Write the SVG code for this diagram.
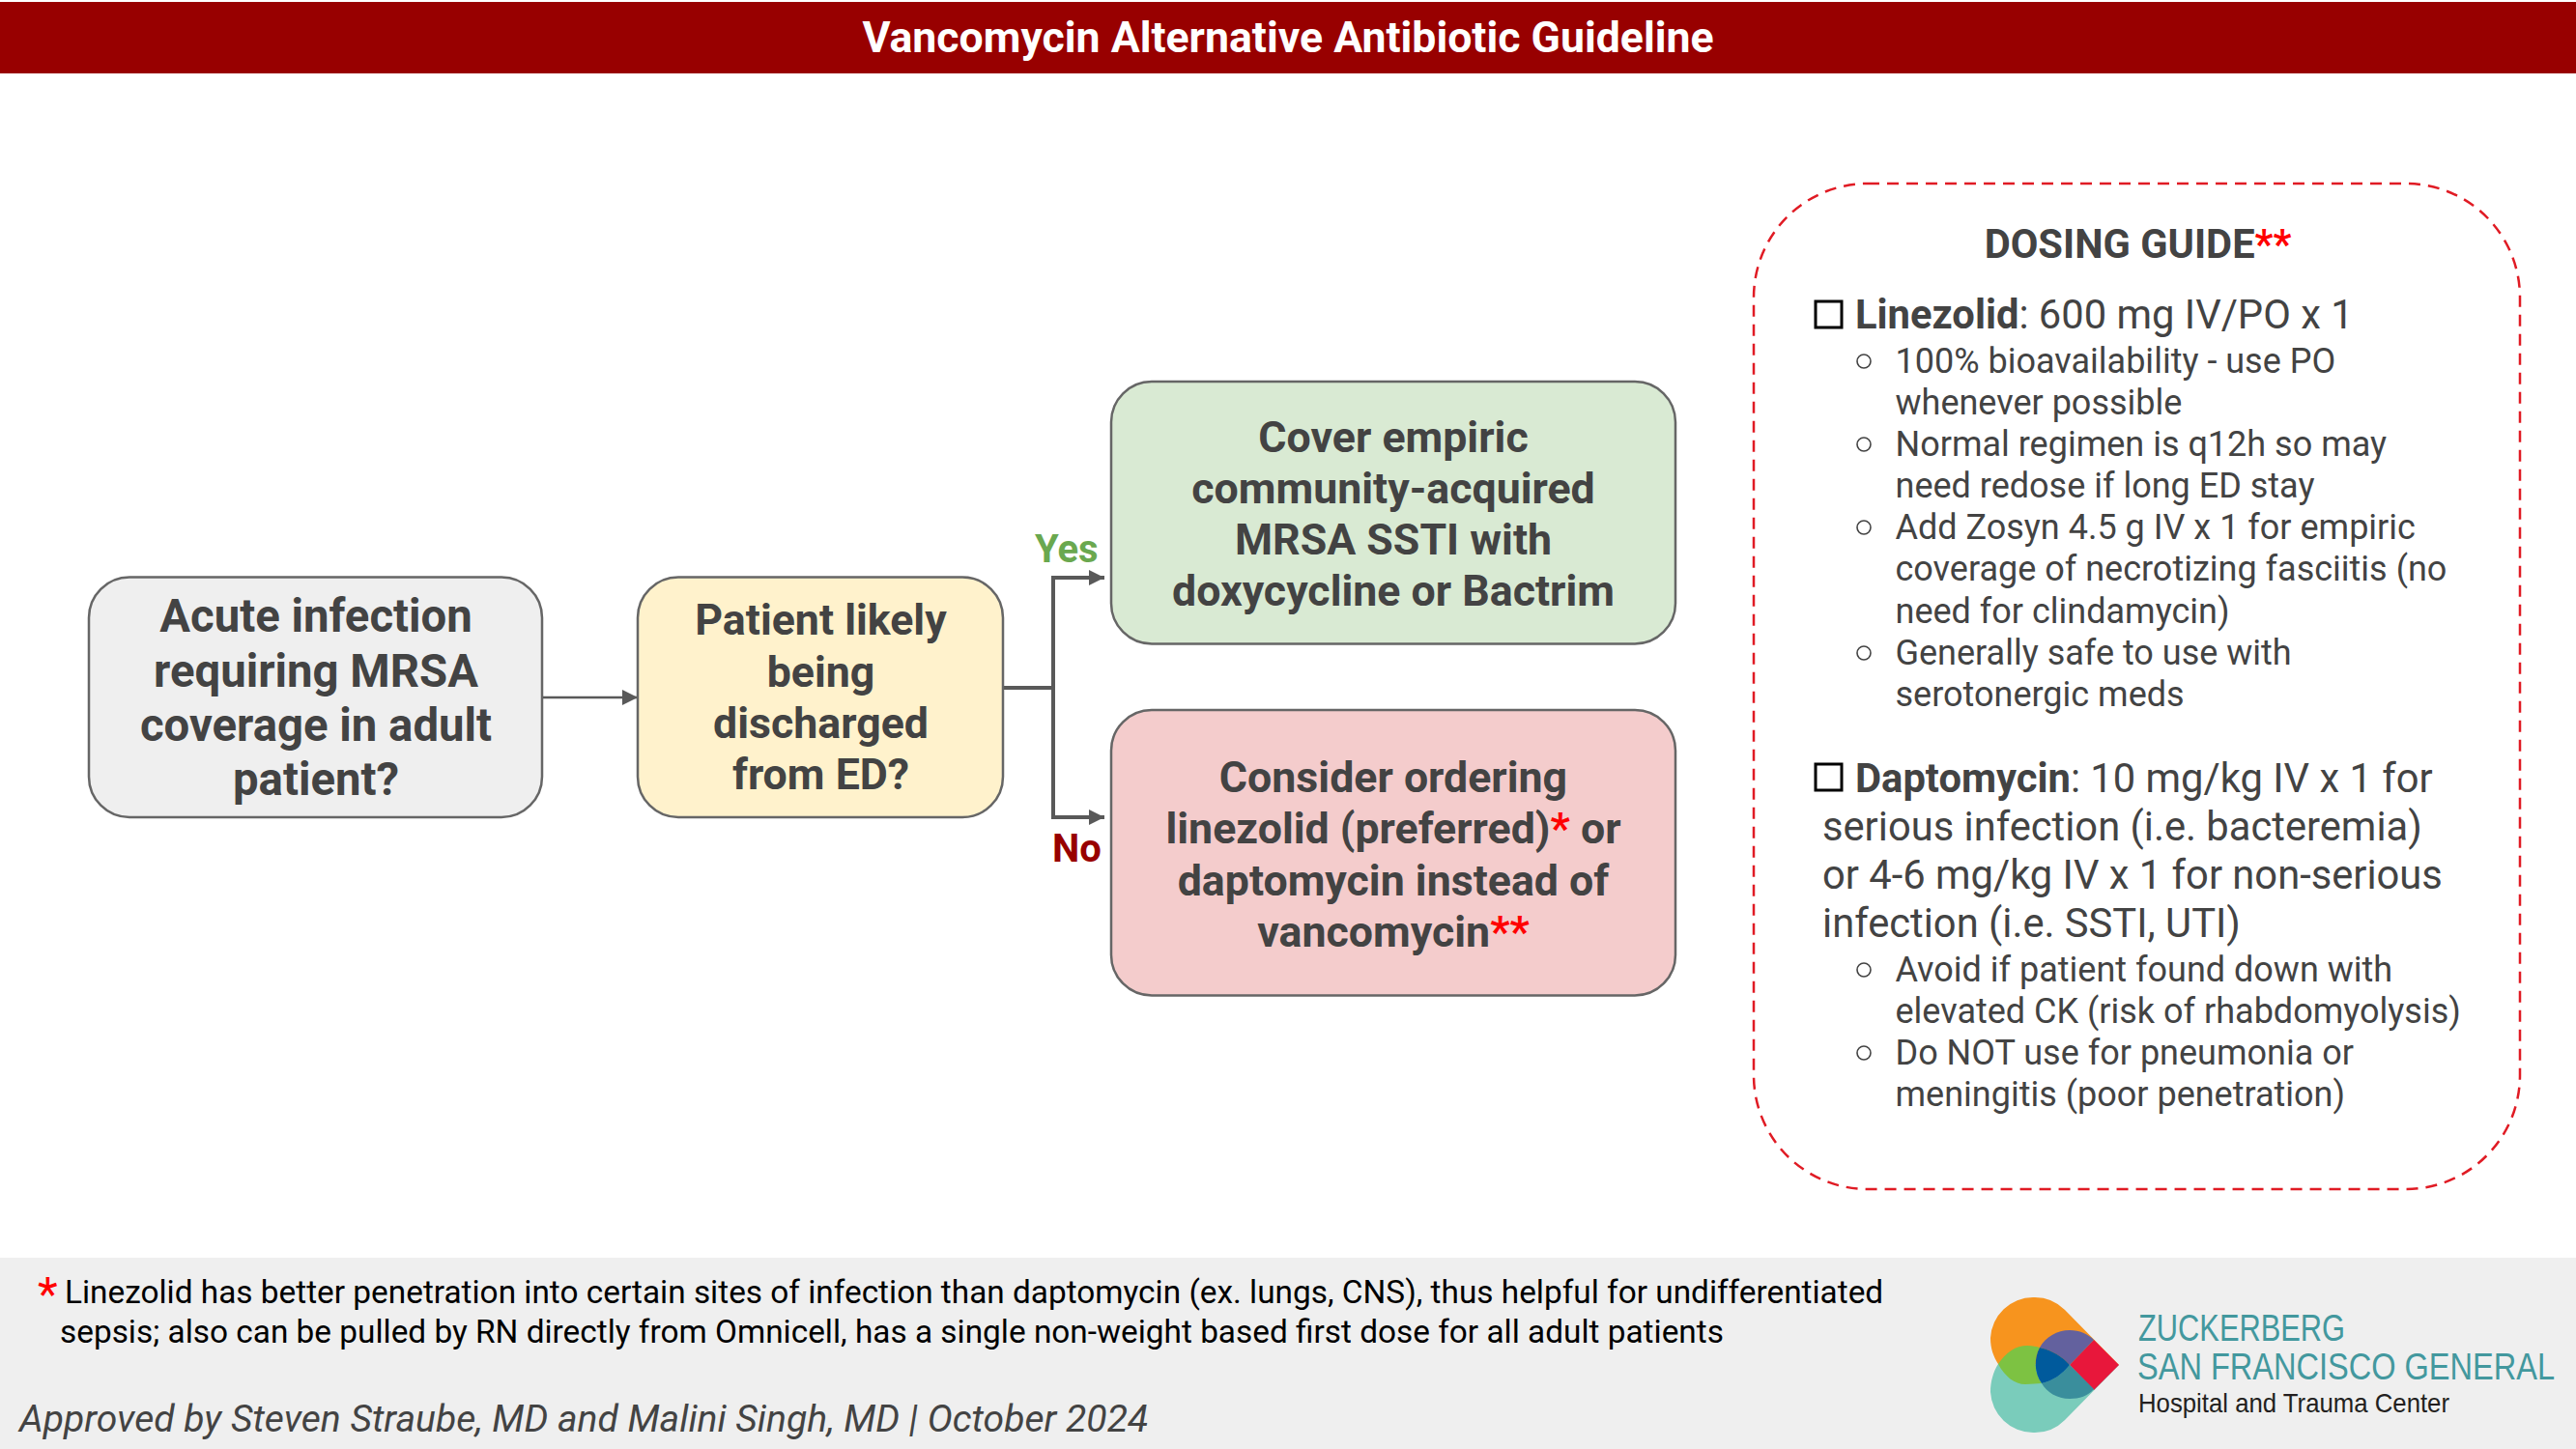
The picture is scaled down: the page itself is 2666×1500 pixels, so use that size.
<svg xmlns="http://www.w3.org/2000/svg" width="2666" height="1500" viewBox="0 0 2666 1500">
<defs>
<marker id="ah" markerUnits="userSpaceOnUse" markerWidth="18" markerHeight="18" refX="16" refY="8" orient="auto"><path d="M0 0L16 8L0 16Z" fill="#595959"/></marker>
<marker id="as" markerUnits="userSpaceOnUse" markerWidth="17" markerHeight="17" refX="16" refY="8" orient="auto"><path d="M0 0L16 8L0 16Z" fill="#595959"/></marker>
</defs>
<style>
text{font-family:Roboto,"Liberation Sans",sans-serif;fill:#434343}
.n{stroke:#666;stroke-width:2.5}
.b{font-weight:700;font-size:44.7px;text-anchor:middle}
.b1{font-size:47.3px}
.l{font-size:36px}
.h{font-size:41.7px}
.f{font-size:33.36px;fill:#000}
.r{fill:#f00}
.c{fill:none;stroke:#595959;stroke-width:4}
.dot{fill:none;stroke:#434343;stroke-width:1.6}
.lg{font-family:"Liberation Sans Narrow","Liberation Sans",sans-serif;fill:#43989e}
</style>
<rect x="0" y="0" width="2666" height="1500" fill="#fff"/>
<g id="header"><rect x="0" y="2" width="2666" height="74" fill="#980000"/>
<text x="1333" y="54" text-anchor="middle" font-size="44.6" font-weight="700" style="fill:#fff">Vancomycin Alternative Antibiotic Guideline</text></g>
<g id="connectors">
<path class="c" style="stroke-width:2.5" d="M561 722H660" marker-end="url(#as)"/>
<path class="c" d="M1037 712H1090"/>
<path class="c" d="M1090 712V598H1143" marker-end="url(#ah)"/>
<path class="c" d="M1090 712V846H1143" marker-end="url(#ah)"/>
</g>
<g id="node-acute"><rect class="n" x="92" y="597.500" width="469" height="248.500" rx="42" fill="#efefef"/>
<text class="b b1" x="327" y="654">Acute infection</text><text class="b b1" x="327" y="711">requiring MRSA</text><text class="b b1" x="327" y="767">coverage in adult</text><text class="b b1" x="327" y="823">patient?</text></g>
<g id="node-discharged"><rect class="n" x="660" y="597.500" width="378" height="248.500" rx="42" fill="#fff2cc"/>
<text class="b" x="849.500" y="657">Patient likely</text><text class="b" x="849.500" y="711">being</text><text class="b" x="849.500" y="764">discharged</text><text class="b" x="849.500" y="817">from ED?</text></g>
<g id="node-yes"><rect class="n" x="1150" y="395" width="584" height="271.500" rx="42" fill="#d9ead3"/>
<text class="b" x="1442" y="467.500">Cover empiric</text><text class="b" x="1442" y="520.500">community-acquired</text><text class="b" x="1442" y="573.500">MRSA SSTI with</text><text class="b" x="1442" y="626.500">doxycycline or Bactrim</text></g>
<g id="node-no"><rect class="n" x="1150" y="735" width="584" height="295.500" rx="42" fill="#f4cccc"/>
<text class="b" x="1442" y="819.500">Consider ordering</text><text class="b" x="1442" y="872.500">linezolid (preferred)<tspan class="r">*</tspan> or</text><text class="b" x="1442" y="926.500">daptomycin instead of</text><text class="b" x="1442" y="979.500">vancomycin<tspan class="r">**</tspan></text></g>
<g id="label-yes"><text x="1071" y="582" font-size="40" font-weight="700" style="fill:#6aa84f">Yes</text></g>
<g id="label-no"><text x="1089" y="892" font-size="40" font-weight="700" style="fill:#980000">No</text></g>
<g id="dosing">
<rect x="1815" y="190" width="793" height="1041" rx="118" fill="none" stroke="#e01b24" stroke-width="2.5" stroke-dasharray="12 8"/>
<text x="2212.500" y="267" text-anchor="middle" font-size="41.6" font-weight="700">DOSING GUIDE<tspan class="r">**</tspan></text>
<rect x="1879" y="312" width="27" height="27" fill="none" stroke="#000" stroke-width="3"/>
<text class="h" x="1920" y="340"><tspan font-weight="700">Linezolid</tspan>: 600 mg IV/PO x 1</text>
<circle class="dot" cx="1929" cy="374" r="7"/><text class="l" x="1961.500" y="385.500">100% bioavailability - use PO</text><text class="l" x="1961.500" y="428.500">whenever possible</text>
<circle class="dot" cx="1929" cy="460" r="7"/><text class="l" x="1961.500" y="471.500">Normal regimen is q12h so may</text><text class="l" x="1961.500" y="514.500">need redose if long ED stay</text>
<circle class="dot" cx="1929" cy="546" r="7"/><text class="l" x="1961.500" y="557.500">Add Zosyn 4.5 g IV x 1 for empiric</text><text class="l" x="1961.500" y="600.500">coverage of necrotizing fasciitis (no</text><text class="l" x="1961.500" y="644.500">need for clindamycin)</text>
<circle class="dot" cx="1929" cy="676" r="7"/><text class="l" x="1961.500" y="687.500">Generally safe to use with</text><text class="l" x="1961.500" y="730.500">serotonergic meds</text>
<rect x="1879" y="791" width="27" height="27" fill="none" stroke="#000" stroke-width="3"/>
<text class="h" x="1920" y="820"><tspan font-weight="700">Daptomycin</tspan>: 10 mg/kg IV x 1 for</text>
<text class="h" x="1886" y="870">serious infection (i.e. bacteremia)</text>
<text class="h" x="1886" y="920">or 4-6 mg/kg IV x 1 for non-serious</text>
<text class="h" x="1886" y="970">infection (i.e. SSTI, UTI)</text>
<circle class="dot" cx="1929" cy="1004" r="7"/><text class="l" x="1961.500" y="1015.500">Avoid if patient found down with</text><text class="l" x="1961.500" y="1058.500">elevated CK (risk of rhabdomyolysis)</text>
<circle class="dot" cx="1929" cy="1090" r="7"/><text class="l" x="1961.500" y="1101.500">Do NOT use for pneumonia or</text><text class="l" x="1961.500" y="1144.500">meningitis (poor penetration)</text>
</g>
<g id="footer"><rect x="0" y="1302" width="2666" height="198" fill="#efefef"/>
<text class="r" x="39" y="1356" font-size="48" style="fill:#f00">*</text>
<text class="f" x="67" y="1349">Linezolid has better penetration into certain sites of infection than daptomycin (ex. lungs, CNS), thus helpful for undifferentiated</text>
<text class="f" x="62" y="1390">sepsis; also can be pulled by RN directly from Omnicell, has a single non-weight based first dose for all adult patients</text>
<text x="20" y="1481.500" font-size="39.100" font-style="italic" style="fill:#434343">Approved by Steven Straube, MD and Malini Singh, MD | October 2024</text>
</g>
<g id="logo">
<path d="M2193 1413L2137 1356A44 44 0 0 0 2104 1343A44.500 44.500 0 0 0 2060 1385C2060 1396 2063 1404 2068 1412Z" fill="#f7941e"/>
<path d="M2193 1413L2137 1470A44 44 0 0 1 2104 1483A44.500 44.500 0 0 1 2060 1441C2060 1430 2063 1420 2068 1412Z" fill="#7accbb"/>
<path d="M2068 1412C2076 1400 2086 1393 2098 1393C2104 1393 2108 1394 2111 1395A35 35 0 0 0 2113 1432C2108 1432 2103 1433 2096 1433C2085 1433 2075 1425 2068 1412Z" fill="#7dc242"/>
<path d="M2142 1413L2167 1387L2193 1413L2167 1439Z" fill="#e8173b"/>
<path d="M2111 1395C2117 1384 2129 1377 2142 1377C2152 1377 2161 1381 2167 1387L2142 1413C2134 1404 2124 1398 2111 1395Z" fill="#63619e"/>
<path d="M2113 1432C2125 1429 2134 1423 2142 1413L2167 1438C2161 1445 2152 1448 2142 1448C2129 1448 2118 1441 2113 1432Z" fill="#3a8e9c"/>
<path d="M2111 1395C2124 1398 2134 1404 2142 1413C2134 1423 2125 1429 2113 1432C2105 1421 2105 1406 2111 1395Z" fill="#005a9c"/>
<text class="lg" x="2213" y="1388" font-size="38" textLength="214" lengthAdjust="spacingAndGlyphs">ZUCKERBERG</text>
<text class="lg" x="2212" y="1428" font-size="38" textLength="432" lengthAdjust="spacingAndGlyphs">SAN FRANCISCO GENERAL</text>
<text class="lg" x="2213" y="1462" font-size="28" textLength="322" lengthAdjust="spacingAndGlyphs" style="fill:#231f20">Hospital and Trauma Center</text>
</g>
</svg>
